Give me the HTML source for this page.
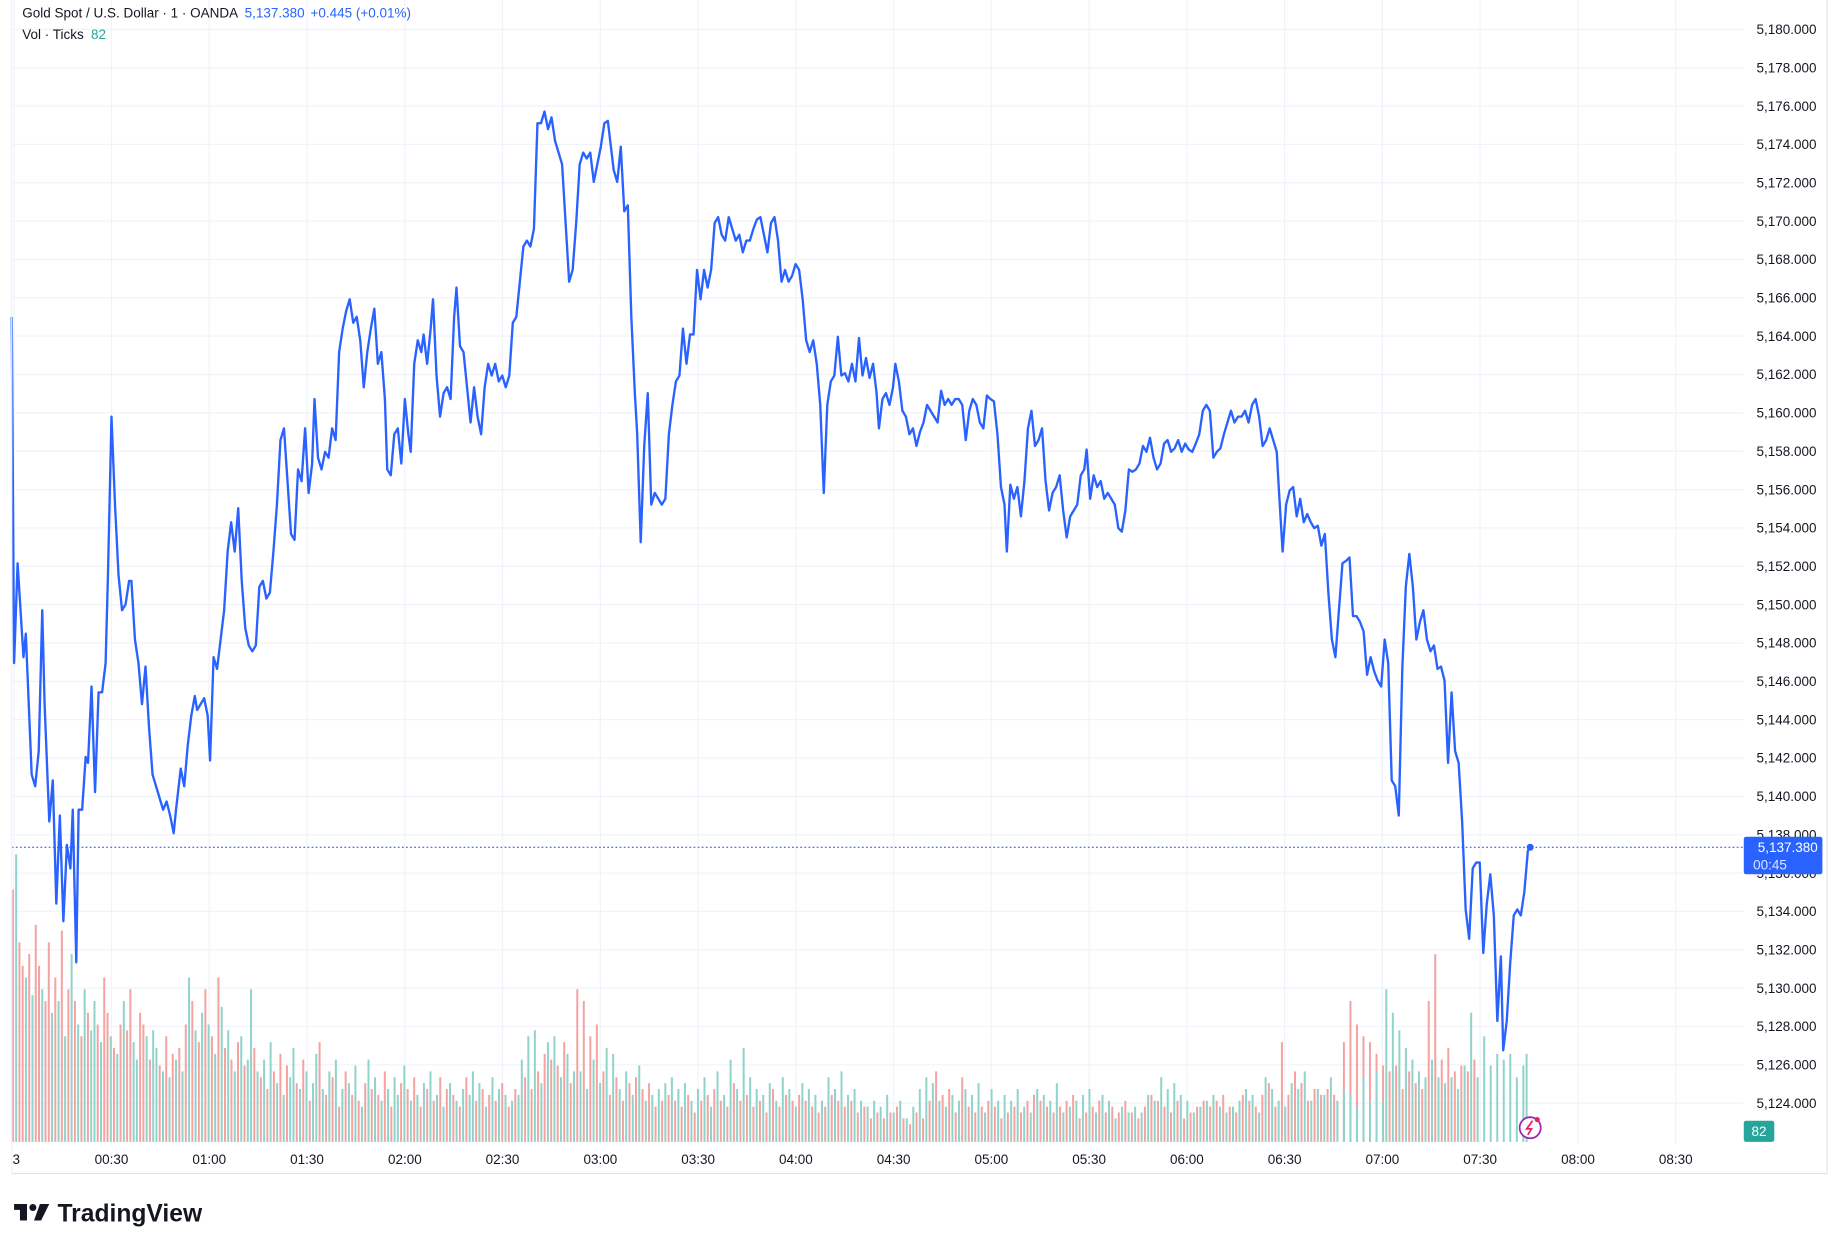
<!DOCTYPE html>
<html><head><meta charset="utf-8"><style>
html,body{margin:0;padding:0;background:#fff;}
svg{display:block;font-family:"Liberation Sans","DejaVu Sans",sans-serif;}
</style></head><body>
<svg width="1840" height="1251" viewBox="0 0 1568 1066" xmlns="http://www.w3.org/2000/svg">
<rect width="1568" height="1066" fill="#fff"/>
<g stroke="#f0f3fa" stroke-width="1">
<line x1="10" y1="25" x2="1486" y2="25"/><line x1="10" y1="57.7" x2="1486" y2="57.7"/><line x1="10" y1="90.4" x2="1486" y2="90.4"/><line x1="10" y1="123" x2="1486" y2="123"/><line x1="10" y1="155.7" x2="1486" y2="155.7"/><line x1="10" y1="188.4" x2="1486" y2="188.4"/><line x1="10" y1="221.1" x2="1486" y2="221.1"/><line x1="10" y1="253.8" x2="1486" y2="253.8"/><line x1="10" y1="286.4" x2="1486" y2="286.4"/><line x1="10" y1="319.1" x2="1486" y2="319.1"/><line x1="10" y1="351.8" x2="1486" y2="351.8"/><line x1="10" y1="384.5" x2="1486" y2="384.5"/><line x1="10" y1="417.2" x2="1486" y2="417.2"/><line x1="10" y1="449.8" x2="1486" y2="449.8"/><line x1="10" y1="482.5" x2="1486" y2="482.5"/><line x1="10" y1="515.2" x2="1486" y2="515.2"/><line x1="10" y1="547.9" x2="1486" y2="547.9"/><line x1="10" y1="580.6" x2="1486" y2="580.6"/><line x1="10" y1="613.2" x2="1486" y2="613.2"/><line x1="10" y1="645.9" x2="1486" y2="645.9"/><line x1="10" y1="678.6" x2="1486" y2="678.6"/><line x1="10" y1="711.3" x2="1486" y2="711.3"/><line x1="10" y1="744" x2="1486" y2="744"/><line x1="10" y1="776.6" x2="1486" y2="776.6"/><line x1="10" y1="809.3" x2="1486" y2="809.3"/><line x1="10" y1="842" x2="1486" y2="842"/><line x1="10" y1="874.7" x2="1486" y2="874.7"/><line x1="10" y1="907.4" x2="1486" y2="907.4"/><line x1="10" y1="940" x2="1486" y2="940"/>
<line x1="12" y1="0" x2="12" y2="975"/><line x1="95" y1="0" x2="95" y2="975"/><line x1="178.3" y1="0" x2="178.3" y2="975"/><line x1="261.6" y1="0" x2="261.6" y2="975"/><line x1="345" y1="0" x2="345" y2="975"/><line x1="428.2" y1="0" x2="428.2" y2="975"/><line x1="511.6" y1="0" x2="511.6" y2="975"/><line x1="594.9" y1="0" x2="594.9" y2="975"/><line x1="678.2" y1="0" x2="678.2" y2="975"/><line x1="761.5" y1="0" x2="761.5" y2="975"/><line x1="844.8" y1="0" x2="844.8" y2="975"/><line x1="928.1" y1="0" x2="928.1" y2="975"/><line x1="1011.4" y1="0" x2="1011.4" y2="975"/><line x1="1094.7" y1="0" x2="1094.7" y2="975"/><line x1="1178" y1="0" x2="1178" y2="975"/><line x1="1261.3" y1="0" x2="1261.3" y2="975"/><line x1="1344.7" y1="0" x2="1344.7" y2="975"/><line x1="1428" y1="0" x2="1428" y2="975"/>
</g>
<!-- volume: red -->
<path fill="none" stroke="#f4a3a1" stroke-width="1.7" d="M11 973v-215m2.78 215m2.78 0v-170m2.78 170v-150m2.78 150m2.78 0v-160m2.78 160m2.78 0v-185m2.78 185v-150m2.78 150m2.78 0v-120m2.78 120v-170m2.78 170m2.78 0v-140m2.78 140m2.78 0v-180m2.78 180m2.78 0v-130m2.78 130
m2.78 0v-120m2.78 120m2.78 0v-90m2.78 90m2.78 0v-110m2.78 110m2.78 0m2.78 0v-100m2.78 100m2.78 0v-140m2.78 140v-110m2.78 110m2.78 0v-80m2.78 80m2.78 0v-100m2.78 100m2.78 0v-95m2.78 95v-130m2.78 130m2.78 0m2.78 0v-110m2.78 110v-100m2.78 100m2.78 0v-70m2.78 70m2.78 0m2.78 0v-65m2.78 65m2.78 0v-90m2.78 90m2.78 0v-75m2.78 75m2.78 0v-80m2.78 80m2.78 0v-100m2.78 100m2.78 0v-120m2.78 120m2.78 0v-85m2.78 85m2.78 0v-130m2.78 130m2.78 0v-90m2.78 90m2.78 0v-140m2.78 140m2.78 0v-80m2.78 80m2.78 0v-70m2.78 70m2.78 0v-85m2.78 85m2.78 0v-65m2.78 65m2.78 0
m2.78 0v-80m2.78 80m2.78 0v-55m2.78 55m2.78 0v-45m2.78 45m2.78 0v-60m2.78 60m2.78 0v-75m2.78 75m2.78 0v-65m2.78 65m2.78 0m2.78 0v-50m2.78 50m2.78 0v-70m2.78 70m2.78 0v-35m2.78 35m2.78 0m2.78 0v-85m2.78 85m2.78 0v-40m2.78 40m2.78 0v-55m2.78 55m2.78 0v-30m2.78 30m2.78 0v-60m2.78 60m2.78 0v-40m2.78 40m2.78 0v-35m2.78 35m2.78 0v-50m2.78 50m2.78 0v-45m2.78 45m2.78 0v-40m2.78 40m2.78 0v-60m2.78 60m2.78 0v-30m2.78 30m2.78 0m2.78 0v-50m2.78 50m2.78 0v-45m2.78 45m2.78 0v-55m2.78 55m2.78 0v-30m2.78 30m2.78 0v-45m2.78 45m2.78 0v-35m2.78 35m2.78 0v-55m2.78 55m2.78 0v-45m2.78 45m2.78 0v-40m2.78 40m2.78 0v-30m2.78 30m2.78 0v-55m2.78 55m2.78 0m2.78 0v-35m2.78 35m2.78 0v-45m2.78 45m2.78 0v-40m2.78 40m2.78 0v-35m2.78 35m2.78 0v-50m2.78 50m2.78 0v-30m2.78 30m2.78 0v-45m2.78 45m2.78 0
m2.78 0v-55m2.78 55m2.78 0v-45m2.78 45m2.78 0v-60m2.78 60m2.78 0v-75m2.78 75m2.78 0v-70m2.78 70m2.78 0v-65m2.78 65m2.78 0v-85m2.78 85m2.78 0v-50m2.78 50m2.78 0v-130m2.78 130m2.78 0v-120m2.78 120m2.78 0v-90m2.78 90m2.78 0v-100m2.78 100m2.78 0v-60m2.78 60m2.78 0v-40m2.78 40m2.78 0v-55m2.78 55m2.78 0v-35m2.78 35m2.78 0v-50m2.78 50m2.78 0v-55m2.78 55m2.78 0v-45m2.78 45m2.78 0v-50m2.78 50m2.78 0v-30m2.78 30m2.78 0v-35m2.78 35m2.78 0
v-40m2.78 40m2.78 0v-35m2.78 35m2.78 0v-30m2.78 30m2.78 0v-40m2.78 40m2.78 0v-25m2.78 25m2.78 0v-35m2.78 35m2.78 0v-40m2.78 40m2.78 0v-45m2.78 45m2.78 0v-35m2.78 35m2.78 0v-30m2.78 30m2.78 0v-50m2.78 50m2.78 0v-35m2.78 35m2.78 0v-40m2.78 40m2.78 0v-30m2.78 30m2.78 0v-35m2.78 35m2.78 0v-25m2.78 25m2.78 0v-45m2.78 45m2.78 0v-30m2.78 30m2.78 0v-40m2.78 40m2.78 0v-35m2.78 35m2.78 0v-40m2.78 40m2.78 0v-35m2.78 35m2.78 0v-30m2.78 30m2.78 0v-25m2.78 25m2.78 0v-30m2.78 30m2.78 0v-40m2.78 40m2.78 0v-35m2.78 35m2.78 0v-30m2.78 30m2.78 0v-35m2.78 35m2.78 0v-25m2.78 25m2.78 0v-30m2.78 30m2.78 0v-20m2.78 20m2.78 0v-25m2.78 25m2.78 0v-20m2.78 20m2.78 0v-25m2.78 25m2.78 0
v-30m2.78 30m2.78 0v-20m2.78 20m2.78 0v-15m2.78 15m2.78 0v-25m2.78 25m2.78 0v-20m2.78 20m2.78 0v-35m2.78 35m2.78 0v-60m2.78 60m2.78 0v-40m2.78 40m2.78 0v-45m2.78 45m2.78 0v-25m2.78 25m2.78 0v-55m2.78 55m2.78 0v-30m2.78 30m2.78 0v-25m2.78 25m2.78 0v-30m2.78 30m2.78 0v-35m2.78 35m2.78 0v-30m2.78 30m2.78 0v-20m2.78 20m2.78 0v-25m2.78 25
m2.78 0v-30m2.78 30m2.78 0v-25m2.78 25m2.78 0v-35m2.78 35m2.78 0v-40m2.78 40m2.78 0v-35m2.78 35m2.78 0v-30m2.78 30m2.78 0v-25m2.78 25m2.78 0v-30m2.78 30m2.78 0v-35m2.78 35m2.78 0v-40m2.78 40m2.78 0v-20m2.78 20m2.78 0v-25m2.78 25m2.78 0v-30m2.78 30m2.78 0v-35m2.78 35m2.78 0v-25m2.78 25m2.78 0v-30m2.78 30m2.78 0v-25m2.78 25m2.78 0v-35m2.78 35m2.78 0v-25m2.78 25m2.78 0v-20m2.78 20m2.78 0v-30m2.78 30m2.78 0v-40m2.78 40m2.78 0v-35m2.78 35m2.78 0v-30m2.78 30m2.78 0v-25m2.78 25m2.78 0v-35m2.78 35m2.78 0v-20m2.78 20m2.78 0v-25m2.78 25m2.78 0v-30m2.78 30m2.78 0v-35m2.78 35m2.78 0v-30m2.78 30m2.78 0v-35m2.78 35m2.78 0v-40m2.78 40m2.78 0v-30m2.78 30m2.78 0v-25m2.78 25m2.78 0v-40m2.78 40m2.78 0v-35m2.78 35m2.78 0v-30m2.78 30m2.78 0v-40m2.78 40m2.78 0v-50m2.78 50m2.78 0v-30m2.78 30m2.78 0v-85m2.78 85m2.78 0v-40m2.78 40m2.78 0v-60m2.78 60m2.78 0v-50m2.78 50m2.78 0v-35m2.78 35m2.78 0v-45m2.78 45m2.78 0v-40m2.78 40m2.78 0v-45m2.78 45m2.78 0v-40m2.78 40m2.78 0
m2.78 0v-85m2.78 85m2.78 0v-120m2.78 120m2.78 0v-100m2.78 100m2.78 0v-90m2.78 90m2.78 0v-85m2.78 85m2.78 0v-75m2.78 75m2.78 0v-65m2.78 65m2.78 0v-60m2.78 60m2.78 0v-65m2.78 65m2.78 0v-45m2.78 45m2.78 0v-60m2.78 60m2.78 0v-50m2.78 50m2.78 0v-45m2.78 45m2.78 0v-120m2.78 120m2.78 0
v-160m2.78 160m2.78 0v-70m2.78 70m2.78 0v-80m2.78 80m2.78 0v-60m2.78 60m2.78 0v-65m2.78 65m2.78 0v-60m2.78 60m2.78 0v-70m2.78 70"/>
<!-- volume: teal -->
<path fill="none" stroke="#8fd3cb" stroke-width="1.7" d="M11 973m2.78 0v-245m2.78 245m2.78 0m2.78 0v-140m2.78 140m2.78 0v-125m2.78 125m2.78 0m2.78 0v-130m2.78 130m2.78 0m2.78 0v-110m2.78 110m2.78 0v-120m2.78 120m2.78 0v-90m2.78 90m2.78 0
v-160m2.78 160m2.78 0v-100m2.78 100m2.78 0v-130m2.78 130m2.78 0v-95m2.78 95v-120m2.78 120m2.78 0v-85m2.78 85m2.78 0m2.78 0v-90m2.78 90m2.78 0v-75m2.78 75m2.78 0v-120m2.78 120m2.78 0m2.78 0v-85m2.78 85v-70m2.78 70m2.78 0m2.78 0v-90m2.78 90m2.78 0v-95m2.78 95v-80m2.78 80m2.78 0v-60m2.78 60m2.78 0v-55m2.78 55m2.78 0v-70m2.78 70m2.78 0v-60m2.78 60m2.78 0v-140m2.78 140m2.78 0v-95m2.78 95m2.78 0v-110m2.78 110m2.78 0v-100m2.78 100m2.78 0v-75m2.78 75m2.78 0v-115m2.78 115m2.78 0v-95m2.78 95m2.78 0v-60m2.78 60m2.78 0v-90m2.78 90m2.78 0v-70m2.78 70
v-130m2.78 130m2.78 0v-60m2.78 60m2.78 0v-70m2.78 70m2.78 0v-85m2.78 85m2.78 0v-50m2.78 50m2.78 0v-40m2.78 40m2.78 0v-55m2.78 55v-80m2.78 80m2.78 0v-45m2.78 45m2.78 0v-60m2.78 60m2.78 0v-50m2.78 50v-75m2.78 75m2.78 0v-45m2.78 45m2.78 0v-60m2.78 60m2.78 0v-70m2.78 70m2.78 0v-45m2.78 45m2.78 0v-50m2.78 50m2.78 0v-65m2.78 65m2.78 0v-30m2.78 30m2.78 0v-70m2.78 70m2.78 0v-55m2.78 55m2.78 0v-35m2.78 35m2.78 0v-45m2.78 45m2.78 0v-55m2.78 55v-40m2.78 40m2.78 0v-65m2.78 65m2.78 0v-35m2.78 35m2.78 0v-40m2.78 40m2.78 0v-50m2.78 50m2.78 0v-60m2.78 60m2.78 0v-40m2.78 40m2.78 0v-30m2.78 30m2.78 0v-50m2.78 50m2.78 0v-35m2.78 35m2.78 0v-45m2.78 45m2.78 0v-40m2.78 40v-60m2.78 60m2.78 0v-50m2.78 50m2.78 0v-30m2.78 30m2.78 0v-55m2.78 55m2.78 0v-45m2.78 45m2.78 0v-40m2.78 40m2.78 0v-35m2.78 35m2.78 0v-40m2.78 40
v-70m2.78 70m2.78 0v-90m2.78 90m2.78 0v-95m2.78 95m2.78 0v-50m2.78 50m2.78 0v-85m2.78 85m2.78 0v-90m2.78 90m2.78 0v-55m2.78 55m2.78 0v-75m2.78 75m2.78 0v-60m2.78 60m2.78 0v-60m2.78 60m2.78 0v-45m2.78 45m2.78 0v-70m2.78 70m2.78 0v-50m2.78 50m2.78 0v-80m2.78 80m2.78 0v-75m2.78 75m2.78 0v-45m2.78 45m2.78 0v-60m2.78 60m2.78 0v-40m2.78 40m2.78 0v-65m2.78 65m2.78 0v-35m2.78 35m2.78 0v-40m2.78 40m2.78 0v-45m2.78 45m2.78 0v-50m2.78 50
m2.78 0v-55m2.78 55m2.78 0v-45m2.78 45m2.78 0v-50m2.78 50m2.78 0v-35m2.78 35m2.78 0v-45m2.78 45m2.78 0v-55m2.78 55m2.78 0v-30m2.78 30m2.78 0v-60m2.78 60m2.78 0v-40m2.78 40m2.78 0v-70m2.78 70m2.78 0v-45m2.78 45m2.78 0v-80m2.78 80m2.78 0v-55m2.78 55m2.78 0v-45m2.78 45m2.78 0v-40m2.78 40m2.78 0v-50m2.78 50m2.78 0v-35m2.78 35m2.78 0v-55m2.78 55m2.78 0v-45m2.78 45m2.78 0v-30m2.78 30m2.78 0v-50m2.78 50m2.78 0v-45m2.78 45m2.78 0v-40m2.78 40m2.78 0v-35m2.78 35m2.78 0v-55m2.78 55m2.78 0v-45m2.78 45m2.78 0v-60m2.78 60m2.78 0v-40m2.78 40m2.78 0v-45m2.78 45m2.78 0v-35m2.78 35m2.78 0v-30m2.78 30m2.78 0v-35m2.78 35m2.78 0v-30m2.78 30m2.78 0v-40m2.78 40
m2.78 0v-25m2.78 25m2.78 0v-35m2.78 35m2.78 0v-20m2.78 20m2.78 0v-30m2.78 30m2.78 0v-45m2.78 45m2.78 0v-55m2.78 55m2.78 0v-50m2.78 50m2.78 0v-35m2.78 35m2.78 0v-30m2.78 30m2.78 0v-40m2.78 40m2.78 0v-35m2.78 35m2.78 0v-45m2.78 45m2.78 0v-40m2.78 40m2.78 0v-50m2.78 50m2.78 0v-25m2.78 25m2.78 0v-45m2.78 45m2.78 0v-35m2.78 35m2.78 0
v-40m2.78 40m2.78 0v-35m2.78 35m2.78 0v-45m2.78 45m2.78 0v-30m2.78 30m2.78 0v-25m2.78 25m2.78 0v-45m2.78 45m2.78 0v-40m2.78 40m2.78 0v-35m2.78 35m2.78 0v-50m2.78 50m2.78 0v-25m2.78 25m2.78 0v-30m2.78 30m2.78 0v-35m2.78 35m2.78 0v-40m2.78 40m2.78 0v-45m2.78 45m2.78 0v-25m2.78 25m2.78 0v-40m2.78 40m2.78 0v-35m2.78 35m2.78 0v-20m2.78 20m2.78 0v-30m2.78 30m2.78 0v-25m2.78 25m2.78 0v-30m2.78 30m2.78 0v-25m2.78 25m2.78 0v-40m2.78 40m2.78 0v-35m2.78 35m2.78 0v-55m2.78 55m2.78 0v-45m2.78 45m2.78 0v-50m2.78 50m2.78 0v-40m2.78 40m2.78 0v-35m2.78 35m2.78 0v-25m2.78 25m2.78 0v-30m2.78 30m2.78 0v-35m2.78 35m2.78 0v-40m2.78 40m2.78 0v-30m2.78 30m2.78 0v-25m2.78 25m2.78 0v-30m2.78 30m2.78 0v-35m2.78 35m2.78 0v-45m2.78 45m2.78 0v-40m2.78 40m2.78 0v-25m2.78 25m2.78 0v-55m2.78 55m2.78 0v-45m2.78 45m2.78 0v-35m2.78 35m2.78 0v-30m2.78 30m2.78 0v-50m2.78 50m2.78 0v-45m2.78 45m2.78 0v-60m2.78 60m2.78 0v-35m2.78 35m2.78 0v-45m2.78 45m2.78 0v-40m2.78 40m2.78 0v-55m2.78 55m2.78 0v-35m2.78 35m2.78 0v-45m2.78 45m2.78 0v-40m2.78 40m2.78 0v-30m2.78 30m2.78 0v-55m2.78 55m2.78 0v-35m2.78 35m2.78 0v-60m2.78 60m2.78 0v-35m2.78 35
v-130m2.78 130m2.78 0v-110m2.78 110m2.78 0v-95m2.78 95m2.78 0v-80m2.78 80m2.78 0v-70m2.78 70m2.78 0v-60m2.78 60m2.78 0v-55m2.78 55m2.78 0v-70m2.78 70m2.78 0v-55m2.78 55m2.78 0v-50m2.78 50m2.78 0v-55m2.78 55m2.78 0v-45m2.78 45m2.78 0v-65m2.78 65m2.78 0v-110m2.78 110m2.78 0v-55m2.78 55
m2.78 0v-90m2.78 90m2.78 0v-65m2.78 65m2.78 0v-75m2.78 75m2.78 0v-70m2.78 70m2.78 0v-75m2.78 75m2.78 0v-55m2.78 55m2.78 0v-65m2.78 65v-75m2.78 75"/>
<line x1="10" y1="722" x2="1486" y2="722" stroke="#2962ff" stroke-width="1" stroke-dasharray="1.5,2"/>
<polyline fill="none" stroke="#2962ff" stroke-width="2" stroke-linejoin="round" points="10,270 12,565 15,480 20,560 22,540 27,660 30,670 33,640 36,520 38,600 42,700 45,665 48,770 51,695 54,785 57,720 60,740 62,690 65,820 67,690 70,690 73,645 75,650 78,585 81,675 84,590 87,590 90,565 92,490 95,355 98,430 101,490 104,520 107,515 110,495 112,495 115,545 118,565 121,600 124,568 127,620 130,660 133,670 136,680 139,690 142,683 145,695 148,710 150,690 154,655 157,670 160,635 163,610 166,593 168,605 171,600 174,595 177,610 179,648 182,560 185,570 188,545 191,520 194,470 197,445 200,470 203,433 206,495 209,535 212,550 215,555 218,550 221,500 224,495 227,510 230,505 233,470 236,430 239,375 242,365 245,410 248,455 251,460 254,400 257,410 260,365 263,420 266,395 268,340 271,390 274,400 277,385 280,390 283,365 286,375 289,300 292,280 295,265 298,255 301,275 304,270 307,290 310,330 313,300 316,280 319,263 322,310 325,300 328,340 330,400 333,405 336,370 339,365 342,395 345,340 348,370 350,385 353,310 356,290 359,300 361,285 364,310 367,280 369,255 372,320 375,355 378,335 381,330 384,340 387,270 389,245 392,295 395,300 398,330 401,360 404,330 407,355 410,370 413,330 416,310 419,320 422,310 425,325 428,320 431,330 434,320 437,275 440,270 443,240 446,210 449,205 452,210 455,195 458,105 461,105 464,95 467,110 470,100 473,120 476,130 479,140 482,190 485,240 488,230 491,190 494,140 497,130 500,135 503,130 506,155 509,140 512,125 515,105 518,103 520,120 523,145 526,155 529,125 532,180 535,175 538,270 541,335 543,370 546,462 549,380 552,335 555,430 558,420 561,425 564,430 567,425 570,370 573,345 576,325 579,320 582,280 585,310 588,285 591,285 594,230 597,255 600,230 603,245 606,230 609,190 612,185 615,200 618,205 621,185 624,195 627,205 630,200 633,215 636,205 639,205 642,195 645,187 648,185 651,200 654,215 657,190 660,185 663,205 666,240 669,230 672,240 675,235 678,225 681,230 684,255 687,290 690,300 693,290 696,310 699,345 702,420 705,345 708,325 711,320 714,287 717,320 720,318 723,325 726,310 729,325 732,288 735,320 738,305 741,322 744,310 747,335 749,365 752,340 755,335 758,345 761,330 763,310 766,325 769,350 772,355 775,370 778,365 781,380 784,368 787,360 790,345 793,350 796,355 799,360 802,333 805,345 808,340 811,345 814,340 817,340 820,345 823,375 826,350 829,340 832,345 835,360 838,365 841,337 844,340 847,342 850,370 853,415 856,430 858,470 861,413 864,425 867,415 870,440 873,410 876,365 879,350 882,380 885,375 888,365 891,410 894,435 897,420 900,415 903,405 906,435 909,458 912,440 915,435 918,430 921,405 924,400 926,383 929,425 932,405 935,415 938,410 941,425 944,420 947,425 950,430 953,450 956,453 959,435 962,400 965,402 968,400 971,395 974,380 977,385 980,373 983,390 986,400 989,395 992,378 995,375 998,385 1001,382 1004,375 1007,385 1010,378 1013,383 1016,385 1019,378 1022,370 1025,350 1028,345 1031,350 1034,390 1037,385 1040,382 1043,370 1046,360 1049,350 1052,360 1055,355 1058,355 1061,350 1064,360 1067,345 1070,340 1073,355 1076,380 1079,375 1082,365 1085,375 1088,385 1090,420 1093,470 1096,430 1099,418 1102,415 1105,440 1108,425 1111,445 1114,438 1117,445 1120,450 1123,448 1126,465 1129,455 1132,505 1135,545 1138,560 1141,520 1144,480 1147,478 1150,475 1153,525 1156,525 1159,530 1162,538 1165,575 1168,560 1171,572 1174,580 1177,585 1180,545 1183,565 1186,665 1189,670 1192,695 1195,570 1198,500 1201,472 1204,500 1207,545 1210,530 1213,520 1216,545 1219,555 1222,550 1225,570 1228,568 1231,580 1234,650 1237,590 1240,640 1243,650 1246,700 1249,775 1252,800 1255,740 1258,735 1261,735 1264,812 1267,770 1270,745 1273,780 1276,870 1279,815 1281,895 1284,870 1287,820 1290,780 1293,775 1296,780 1299,760 1302,725 1304,722"/>
<circle cx="1304" cy="722" r="3" fill="#2962ff"/>
<line x1="1557" y1="0" x2="1557" y2="1000" stroke="#e0e3eb"/>
<line x1="10" y1="1000" x2="1557" y2="1000" stroke="#e0e3eb"/>
<line x1="10" y1="0" x2="10" y2="1000" stroke="#f0f3fa"/>
<g font-size="11.5" fill="#131722" text-anchor="end">
<text x="1548" y="29">5,180.000</text><text x="1548" y="61.7">5,178.000</text><text x="1548" y="94.4">5,176.000</text><text x="1548" y="127">5,174.000</text><text x="1548" y="159.7">5,172.000</text><text x="1548" y="192.4">5,170.000</text><text x="1548" y="225.1">5,168.000</text><text x="1548" y="257.8">5,166.000</text><text x="1548" y="290.4">5,164.000</text><text x="1548" y="323.1">5,162.000</text><text x="1548" y="355.8">5,160.000</text><text x="1548" y="388.5">5,158.000</text><text x="1548" y="421.2">5,156.000</text><text x="1548" y="453.8">5,154.000</text><text x="1548" y="486.5">5,152.000</text><text x="1548" y="519.2">5,150.000</text><text x="1548" y="551.9">5,148.000</text><text x="1548" y="584.6">5,146.000</text><text x="1548" y="617.2">5,144.000</text><text x="1548" y="649.9">5,142.000</text><text x="1548" y="682.6">5,140.000</text><text x="1548" y="715.3">5,138.000</text><text x="1548" y="748">5,136.000</text><text x="1548" y="780.6">5,134.000</text><text x="1548" y="813.3">5,132.000</text><text x="1548" y="846">5,130.000</text><text x="1548" y="878.7">5,128.000</text><text x="1548" y="911.4">5,126.000</text><text x="1548" y="944">5,124.000</text>
</g>
<g font-size="11.5" fill="#131722" text-anchor="middle">
<text x="17" y="992" text-anchor="end">3</text><text x="95" y="992">00:30</text><text x="178.3" y="992">01:00</text><text x="261.6" y="992">01:30</text><text x="345" y="992">02:00</text><text x="428.2" y="992">02:30</text><text x="511.6" y="992">03:00</text><text x="594.9" y="992">03:30</text><text x="678.2" y="992">04:00</text><text x="761.5" y="992">04:30</text><text x="844.8" y="992">05:00</text><text x="928.1" y="992">05:30</text><text x="1011.4" y="992">06:00</text><text x="1094.7" y="992">06:30</text><text x="1178" y="992">07:00</text><text x="1261.3" y="992">07:30</text><text x="1344.7" y="992">08:00</text><text x="1428" y="992">08:30</text>
</g>
<rect x="1486" y="713" width="67" height="32" rx="2" fill="#2962ff"/>
<text x="1549" y="726" font-size="11.5" fill="#fff" text-anchor="end">5,137.380</text>
<text x="1494" y="741" font-size="11.5" fill="#dbe4ff">00:45</text>
<rect x="1486" y="955" width="26" height="18" rx="2" fill="#26a69a"/>
<text x="1499" y="968" font-size="11.5" fill="#fff" text-anchor="middle">82</text>
<circle cx="1304" cy="961" r="9" fill="#fff" stroke="#9c27b0" stroke-width="1.5"/>
<path d="M1306 955 L1301 962 L1305 962 L1302 967" fill="none" stroke="#e91e63" stroke-width="1.5"/>
<circle cx="1310" cy="954" r="2.2" fill="#e91e63"/>
<text x="19" y="15" font-size="11.5" fill="#131722">Gold Spot / U.S. Dollar · 1 · OANDA <tspan fill="#2962ff" dx="3">5,137.380</tspan><tspan fill="#2962ff" dx="5">+0.445 (+0.01%)</tspan></text>
<text x="19" y="33" font-size="11.5" fill="#131722">Vol · Ticks <tspan fill="#26a69a" dx="3">82</tspan></text>
<g fill="#131722">
<rect x="12" y="1026" width="11" height="5"/><rect x="17" y="1026" width="6" height="14"/>
<circle cx="28" cy="1029" r="3"/>
<path d="M34 1026 L42 1026 L35 1040 L29 1040 Z"/>
</g>
<text x="49" y="1041" font-size="21" font-weight="bold" fill="#131722">TradingView</text>
</svg>
</body></html>
